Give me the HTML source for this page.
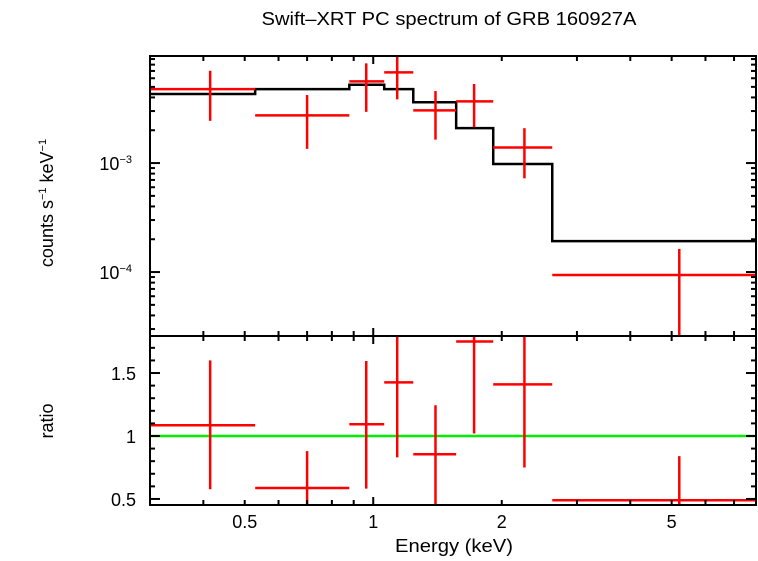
<!DOCTYPE html>
<html><head><meta charset="utf-8"><style>
body{margin:0;background:#fff;}
svg text{font-family:"Liberation Sans",sans-serif;fill:#000;}
</style></head><body>
<svg id="c" width="758" height="556" xmlns="http://www.w3.org/2000/svg">
<text x="449" y="25" font-size="18" text-anchor="middle" textLength="375" lengthAdjust="spacingAndGlyphs">Swift–XRT PC spectrum of GRB 160927A</text>
<text x="454" y="552" font-size="18" text-anchor="middle" textLength="118" lengthAdjust="spacingAndGlyphs">Energy (keV)</text>
<text transform="translate(53,203) rotate(-90)" font-size="18" text-anchor="middle">counts s<tspan font-size="11" dy="-7">−1</tspan><tspan dy="7"> keV</tspan><tspan font-size="11" dy="-7">−1</tspan></text>
<text transform="translate(53,421) rotate(-90)" font-size="18" text-anchor="middle">ratio</text>
<g id="g"></g>
</svg>
<script>
const binLo=[0.300,0.529,0.879,1.061,1.241,1.564,1.910,2.626];
const binHi=[0.529,0.879,1.061,1.241,1.564,1.910,2.626,7.88];
const eCenter=[0.415,0.700,0.963,1.138,1.399,1.723,2.26,5.21];
const flux=[4.77e-3,2.74e-3,5.62e-3,6.79e-3,3.04e-3,3.68e-3,1.39e-3,9.39e-5];
const fluxLo=[2.44e-3,1.35e-3,2.95e-3,3.84e-3,1.64e-3,2.14e-3,7.24e-4,1e-5];
const fluxHi=[7.03e-3,4.21e-3,8.22e-3,1.0e-2,4.58e-3,5.31e-3,2.09e-3,1.63e-4];
const model=[4.30e-3,4.77e-3,5.23e-3,4.77e-3,3.61e-3,2.09e-3,9.8e-4,1.92e-4];
const ratio=[1.085,0.587,1.093,1.426,0.855,1.75,1.41,0.49];
const ratioLo=[0.577,0.40,0.582,0.83,0.40,1.02,0.75,0.40];
const ratioHi=[1.60,0.88,1.595,1.9,1.244,1.9,1.9,0.84];
const xTickLabels=[0.5,1,2,5];

const L=150,R=756,T1=56,B1=336,T2=336,B2=505;
const XMIN=0.3,XMAX=7.88;
const Y1MIN=2.59e-5,Y1MAX=9.6e-3,Y2MIN=0.452,Y2MAX=1.794;
const lg=Math.log10;
const xs=e=>L+(R-L)*(lg(e)-lg(XMIN))/(lg(XMAX)-lg(XMIN));
const y1=v=>B1-(B1-T1)*(lg(v)-lg(Y1MIN))/(lg(Y1MAX)-lg(Y1MIN));
const y2=v=>B2-(B2-T2)*(v-Y2MIN)/(Y2MAX-Y2MIN);
const g=document.getElementById('g');
const NS='http://www.w3.org/2000/svg';
function el(tag,a){const e=document.createElementNS(NS,tag);for(const k in a)e.setAttribute(k,a[k]);g.appendChild(e);return e;}
const cl1=v=>Math.max(T1,Math.min(B1,y1(v)));
const cl2=v=>Math.max(T2,Math.min(B2,y2(v)));

let gl=el('line',{x1:L,x2:R,y1:y2(1),y2:y2(1),stroke:'#00ee00','stroke-width':2.5});



let d='';
for(let i=0;i<model.length;i++){
  const yy=y1(model[i]);
  d+=(i==0?'M':'L')+xs(binLo[i])+','+yy+' L'+xs(binHi[i])+','+yy+' ';
}
let mp=el('path',{d:d,fill:'none',stroke:'#000','stroke-width':2.5});



for(let i=0;i<flux.length;i++){
  const a=el('line',{x1:xs(binLo[i]),x2:xs(binHi[i]),y1:y1(flux[i]),y2:y1(flux[i]),stroke:'#ff0000','stroke-width':2.5});
  
  
  const b=el('line',{x1:xs(eCenter[i]),x2:xs(eCenter[i]),y1:cl1(fluxLo[i]),y2:cl1(fluxHi[i]),stroke:'#ff0000','stroke-width':2.5});
  
  
  const c=el('line',{x1:xs(binLo[i]),x2:xs(binHi[i]),y1:y2(ratio[i]),y2:y2(ratio[i]),stroke:'#ff0000','stroke-width':2.5});
  
  
  const r=el('line',{x1:xs(eCenter[i]),x2:xs(eCenter[i]),y1:cl2(ratioLo[i]),y2:cl2(ratioHi[i]),stroke:'#ff0000','stroke-width':2.5});
  
  
}

for(const [t,b,n] of [[T1,B1,'top-panel-frame'],[T2,B2,'bottom-panel-frame']]){
  const f=el('rect',{x:L,y:t,width:R-L,height:b-t,fill:'none',stroke:'#000','stroke-width':2});
  
  
}
function tk(x1,y1_,x2,y2_){el('line',{x1:x1,y1:y1_,x2:x2,y2:y2_,stroke:'#000','stroke-width':2});}
for(let dec=0.1;dec<=10;dec*=10){
  for(let m=1;m<10;m++){
    const e=m*dec; if(e<XMIN||e>XMAX) continue;
    const x=xs(e), len=(m==1)?8:5;
    for(const [t,b] of [[T1,B1],[T2,B2]]){tk(x,t,x,t+len);tk(x,b,x,b-len);}
  }
}
for(const v of xTickLabels){
  const t=el('text',{x:xs(v),y:528,'font-size':18,'text-anchor':'middle'});
  t.textContent=String(v);
  
  
}
for(let dec=1e-5;dec<1e-2;dec*=10){
  for(let m=1;m<10;m++){
    const v=m*dec; if(v<Y1MIN||v>Y1MAX) continue;
    const y=y1(v),len=(m==1)?10:5;
    tk(L,y,L+len,y);tk(R,y,R-len,y);
  }
}
for(const [v,ex] of [[1e-3,'−3'],[1e-4,'−4']]){
  const t=el('text',{x:132,y:y1(v)+7,'font-size':18,'text-anchor':'end'});
  t.innerHTML='10<tspan font-size="11" dy="-7">'+ex+'</tspan>';
  
  
}
for(let k=5;k<=17;k++){
  const v=k/10,y=y2(v),len=(k%5==0)?10:5;
  tk(L,y,L+len,y);tk(R,y,R-len,y);
}
for(const v of [0.5,1,1.5]){
  const t=el('text',{x:136,y:y2(v)+7,'font-size':18,'text-anchor':'end'});
  t.textContent=String(v);
  
  
}
</script>
</body></html>
